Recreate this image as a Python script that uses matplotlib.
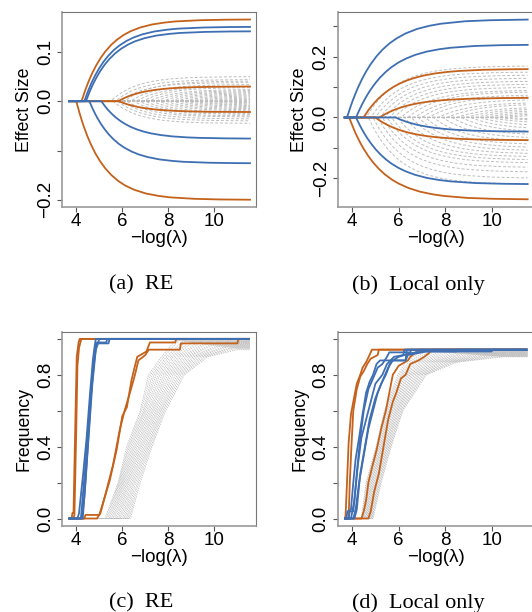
import numpy as np
import matplotlib
matplotlib.use("Agg")
import matplotlib.pyplot as plt

ORANGE = "#c4621c"
BLUE = "#3f6fb3"
GREY = "#bdbdbd"

X_START = 3.68
X_END = 11.55

# shape of a coefficient path: distance past the entry point -> share of the final value
PROFILE_D = [0, 0.1, 0.2, 0.3, 0.45, 0.6, 0.8, 1.0, 1.25, 1.5, 1.8, 2.1, 2.5, 3.0, 3.5,
             4.0, 5.0, 6.0, 8.0]
PROFILE_A = [0, 0.087, 0.166, 0.239, 0.336, 0.42, 0.517, 0.597, 0.679, 0.744, 0.805,
             0.852, 0.897, 0.935, 0.958, 0.974, 0.989, 0.996, 1.0]
PROFILE_B = [0, 0.074, 0.143, 0.206, 0.293, 0.37, 0.46, 0.537, 0.618, 0.685, 0.75,
             0.801, 0.854, 0.901, 0.932, 0.954, 0.979, 0.99, 0.998]

# (a) RE - effect size paths
A_ORANGE_ENTRY = [4.23, 5.82, 5.85, 4.0]
A_ORANGE_FINAL = [0.166, 0.030, -0.022, -0.200]
A_BLUE_ENTRY = [4.35, 4.42, 5.09, 4.57]
A_BLUE_FINAL = [0.151, 0.142, -0.076, -0.126]
A_GREY_ENTRY = [5.5, 5.6, 5.7, 5.8, 5.9, 6.0, 6.1, 6.2, 6.35, 6.5, 6.6, 6.75, 6.9,
                7.0, 7.15, 7.3, 7.45, 7.6, 7.75, 7.9, 8.05, 8.2, 8.35, 8.5, 8.65,
                8.8, 8.95, 9.1, 9.25, 9.4, 9.6, 9.8, 10.0, 10.2, 10.4, 10.6, 10.8, 11.0]
A_GREY_FINAL = [0.050, -0.045, 0.044, -0.040, 0.038, -0.036, 0.041, -0.032, 0.034,
                -0.030, 0.030, -0.027, 0.028, -0.025, 0.024, -0.023, 0.022, -0.020,
                0.020, -0.018, 0.018, -0.016, 0.016, -0.014, 0.014, -0.012, 0.012,
                -0.010, 0.010, -0.009, 0.008, -0.007, 0.006, -0.005, 0.005, -0.004,
                0.003, -0.003]

# (b) Local only - effect size paths
B_ORANGE_ENTRY = [4.49, 5.18, 5.0, 3.87]
B_ORANGE_FINAL = [0.160, 0.065, -0.075, -0.270]
B_BLUE_ENTRY = [3.78, 4.17, 5.87, 4.17]
B_BLUE_FINAL = [0.323, 0.240, -0.047, -0.220]
B_GREY_ENTRY = [4.6, 4.7, 4.8, 4.9, 5.0, 5.1, 5.2, 5.3, 5.4, 5.5, 5.6, 5.7, 5.8, 5.95,
                6.1, 6.25, 6.4, 6.55, 6.7, 6.85, 7.0, 7.15, 7.3, 7.5, 7.7, 7.9, 8.1,
                8.3, 8.5, 8.7, 8.9, 9.1, 9.3, 9.5, 9.7, 9.9, 10.1, 10.3, 10.5, 10.7]
B_GREY_FINAL = [0.17, -0.22, 0.15, -0.20, 0.14, -0.18, 0.13, -0.165, 0.12, -0.15,
                0.11, -0.14, 0.10, -0.13, 0.09, -0.12, 0.085, -0.11, 0.075, -0.10,
                0.07, -0.09, 0.06, -0.08, 0.05, -0.07, 0.045, -0.06, 0.035, -0.05,
                0.03, -0.04, 0.025, -0.03, 0.02, -0.02, 0.015, -0.012, 0.01, -0.008]

# (c) RE - selection frequency
C_ORANGE_X = [
    [3.7, 3.8, 3.83, 3.88, 3.97, 4.02, 4.1, 4.15, 11.5],
    [3.7, 3.87, 3.92, 4.0, 4.05, 4.12, 4.22, 11.5],
    [3.7, 4.35, 4.4, 5.0, 5.1, 5.45, 5.75, 6.0, 6.2, 6.4, 6.55, 6.65, 7.05, 7.2, 8.3, 8.35, 11.5],
    [3.7, 4.9, 5.05, 5.3, 5.6, 5.9, 6.1, 6.4, 6.55, 6.7, 7.0, 7.15, 8.5, 8.55, 11.0, 11.05, 11.5],
]
C_ORANGE_Y = [
    [0, 0, 0.03, 0.03, 0.6, 0.9, 0.98, 1.0, 1.0],
    [0, 0, 0.02, 0.5, 0.85, 0.95, 1.0, 1.0],
    [0, 0, 0.02, 0.02, 0.06, 0.21, 0.38, 0.57, 0.62, 0.77, 0.85, 0.9, 0.93, 0.98, 0.98, 1.0, 1.0],
    [0, 0, 0.03, 0.15, 0.3, 0.5, 0.6, 0.73, 0.8, 0.88, 0.91, 0.94, 0.94, 0.975, 0.975, 1.0, 1.0],
]
C_BLUE_X = [
    [3.7, 4.05, 4.12, 4.3, 4.45, 4.6, 4.72, 4.8, 4.85, 11.5],
    [3.7, 4.2, 4.3, 4.45, 4.6, 4.75, 4.82, 4.95, 5.0, 11.5],
    [3.7, 4.25, 4.35, 4.5, 4.65, 4.8, 4.9, 5.3, 5.35, 11.5],
    [3.7, 4.28, 4.4, 4.55, 4.7, 4.85, 4.95, 5.4, 5.45, 11.5],
]
C_BLUE_Y = [
    [0, 0, 0.03, 0.25, 0.45, 0.7, 0.88, 0.96, 1.0, 1.0],
    [0, 0, 0.15, 0.38, 0.65, 0.88, 0.96, 0.98, 1.0, 1.0],
    [0, 0, 0.12, 0.4, 0.7, 0.9, 0.98, 0.98, 1.0, 1.0],
    [0, 0, 0.2, 0.48, 0.75, 0.94, 0.975, 0.975, 1.0, 1.0],
]
C_GREY_LEVELS = [0, 0.2, 0.4, 0.6, 0.8, 0.9]
C_GREY_CROSS = [
    [5.25, 5.82, 6.19, 6.78, 7.14, 7.70, 8.30],
    [5.30, 5.85, 6.25, 6.83, 7.22, 7.80, 8.45],
    [5.36, 5.88, 6.30, 6.90, 7.30, 7.92, 8.60],
    [5.42, 5.92, 6.36, 6.95, 7.38, 8.02, 8.75],
    [5.48, 5.96, 6.42, 7.00, 7.46, 8.12, 8.90],
    [5.54, 6.00, 6.48, 7.06, 7.55, 8.22, 9.05],
    [5.60, 6.04, 6.54, 7.12, 7.63, 8.33, 9.20],
    [5.66, 6.08, 6.60, 7.18, 7.72, 8.44, 9.35],
    [5.72, 6.13, 6.66, 7.24, 7.80, 8.54, 9.50],
    [5.78, 6.18, 6.72, 7.30, 7.88, 8.65, 9.65],
    [5.84, 6.23, 6.78, 7.36, 7.96, 8.76, 9.80],
    [5.90, 6.28, 6.84, 7.42, 8.05, 8.86, 9.95],
    [5.96, 6.34, 6.90, 7.48, 8.13, 8.97, 10.10],
    [6.02, 6.40, 6.96, 7.54, 8.21, 9.08, 10.25],
    [6.08, 6.46, 7.02, 7.60, 8.30, 9.18, 10.40],
    [6.13, 6.52, 7.08, 7.66, 8.38, 9.28, 10.55],
    [6.19, 6.58, 7.13, 7.71, 8.46, 9.39, 10.70],
    [6.24, 6.65, 7.18, 7.77, 8.54, 9.49, 10.80],
    [6.30, 6.71, 7.24, 7.82, 8.62, 9.60, 10.90],
    [6.35, 6.78, 7.29, 7.88, 8.70, 9.70, 11.00],
]
C_GREY_TOP = [0.99, 0.99, 0.985, 0.985, 0.98, 0.98, 0.975, 0.975, 0.97, 0.97,
              0.965, 0.965, 0.96, 0.96, 0.955, 0.955, 0.95, 0.95, 0.945, 0.94]

# (d) Local only - selection frequency
D_ORANGE_X = [
    [3.7, 3.72, 3.78, 3.85, 3.95, 4.05, 4.2, 4.35, 4.45, 4.6, 4.75, 4.85, 11.5],
    [3.7, 3.85, 3.9, 3.97, 4.05, 4.2, 4.35, 4.5, 4.65, 4.8, 5.1, 5.15, 11.5],
    [3.7, 4.4, 4.5, 4.6, 4.7, 4.85, 5.05, 5.25, 5.45, 5.6, 5.75, 5.9, 6.0, 6.4, 6.5, 6.7, 6.85, 11.5],
    [3.7, 4.7, 4.8, 4.95, 5.15, 5.35, 5.55, 5.75, 5.9, 6.1, 6.3, 6.5, 6.85, 7.1, 7.3, 7.45, 11.5],
]
D_ORANGE_Y = [
    [0, 0.02, 0.2, 0.42, 0.58, 0.65, 0.75, 0.8, 0.84, 0.87, 0.91, 0.94, 0.94],
    [0, 0, 0.2, 0.4, 0.6, 0.72, 0.79, 0.82, 0.86, 0.89, 0.91, 0.94, 0.94],
    [0, 0, 0.04, 0.1, 0.2, 0.28, 0.38, 0.5, 0.6, 0.7, 0.8, 0.83, 0.85, 0.88, 0.9, 0.92, 0.94, 0.94],
    [0, 0, 0.04, 0.15, 0.25, 0.4, 0.55, 0.65, 0.7, 0.78, 0.8, 0.86, 0.88, 0.9, 0.92, 0.94, 0.94],
]
D_BLUE_X = [
    [3.7, 3.75, 3.8, 3.95, 4.05, 4.15, 4.3, 4.45, 4.6, 4.75, 4.9, 5.05, 5.2, 6.3, 6.35, 11.5],
    [3.7, 3.85, 3.9, 4.05, 4.2, 4.35, 4.5, 4.7, 4.9, 5.1, 5.3, 5.5, 5.6, 6.5, 6.55, 11.5],
    [3.7, 3.95, 4.1, 4.25, 4.4, 4.6, 4.8, 5.0, 5.3, 5.5, 5.8, 6.2, 6.25, 11.5],
    [3.7, 4.05, 4.15, 4.3, 4.5, 4.7, 4.9, 5.1, 5.35, 5.55, 5.7, 6.3, 6.4, 7.2, 8.5, 8.55, 11.5],
    [3.7, 4.1, 4.2, 4.35, 4.55, 4.75, 5.0, 5.25, 5.45, 5.6, 5.75, 6.0, 6.5, 7.0, 10.0, 10.05, 11.5],
]
D_BLUE_Y = [
    [0, 0, 0.04, 0.05, 0.2, 0.33, 0.45, 0.58, 0.7, 0.76, 0.8, 0.86, 0.88, 0.88, 0.94, 0.94],
    [0, 0, 0.04, 0.04, 0.25, 0.45, 0.6, 0.72, 0.78, 0.84, 0.86, 0.9, 0.925, 0.925, 0.94, 0.94],
    [0, 0, 0.1, 0.3, 0.45, 0.55, 0.65, 0.75, 0.8, 0.86, 0.9, 0.91, 0.94, 0.94],
    [0, 0, 0.05, 0.2, 0.35, 0.5, 0.6, 0.7, 0.78, 0.84, 0.88, 0.88, 0.91, 0.93, 0.93, 0.94, 0.94],
    [0, 0, 0.05, 0.25, 0.4, 0.55, 0.67, 0.75, 0.8, 0.85, 0.88, 0.9, 0.92, 0.93, 0.93, 0.94, 0.94],
]
D_GREY_LEVELS = [0, 0.2, 0.4, 0.6, 0.8, 0.87]
D_GREY_CROSS = [
    [4.40, 4.60, 5.03, 5.39, 5.97, 6.30, 7.00],
    [4.43, 4.63, 5.06, 5.43, 6.03, 6.42, 7.18],
    [4.45, 4.67, 5.10, 5.47, 6.10, 6.53, 7.37],
    [4.48, 4.70, 5.13, 5.51, 6.16, 6.65, 7.55],
    [4.51, 4.74, 5.17, 5.56, 6.23, 6.76, 7.74],
    [4.53, 4.77, 5.20, 5.60, 6.29, 6.88, 7.92],
    [4.56, 4.81, 5.24, 5.64, 6.36, 6.99, 8.10],
    [4.59, 4.84, 5.27, 5.68, 6.42, 7.11, 8.29],
    [4.61, 4.87, 5.30, 5.72, 6.48, 7.23, 8.47],
    [4.64, 4.91, 5.34, 5.76, 6.55, 7.34, 8.66],
    [4.66, 4.94, 5.37, 5.81, 6.61, 7.46, 8.84],
    [4.69, 4.98, 5.41, 5.85, 6.68, 7.57, 9.03],
    [4.72, 5.01, 5.44, 5.89, 6.74, 7.69, 9.21],
    [4.74, 5.05, 5.48, 5.93, 6.81, 7.80, 9.39],
    [4.77, 5.08, 5.51, 5.97, 6.87, 7.92, 9.58],
    [4.79, 5.11, 5.54, 6.01, 6.93, 8.04, 9.76],
    [4.82, 5.15, 5.58, 6.06, 7.00, 8.15, 9.95],
    [4.85, 5.18, 5.61, 6.10, 7.06, 8.27, 10.13],
    [4.87, 5.22, 5.65, 6.14, 7.13, 8.38, 10.32],
    [4.90, 5.25, 5.68, 6.18, 7.19, 8.50, 10.50],
]
D_GREY_TOP = [0.935, 0.933, 0.931, 0.929, 0.927, 0.926, 0.924, 0.922, 0.920, 0.918,
              0.917, 0.915, 0.913, 0.911, 0.909, 0.908, 0.906, 0.904, 0.902, 0.900]

X_TICKS = [4, 6, 8, 10]
A_YTICKS = [-0.2, -0.1, 0.0, 0.1]
A_YLABELS = ["\u22120.2", "", "0.0", "0.1"]
B_YTICKS = [-0.2, -0.1, 0.0, 0.1, 0.2, 0.3]
B_YLABELS = ["\u22120.2", "", "0.0", "", "0.2", ""]
F_YTICKS = [0.0, 0.2, 0.4, 0.6, 0.8, 1.0]
F_YLABELS = ["0.0", "", "0.4", "", "0.8", ""]

SANS = ["Liberation Sans", "DejaVu Sans"]
SERIF = ["Liberation Serif", "DejaVu Serif"]
FS = 13.5
FS_YLAB = 12.8

plt.rcParams['font.family'] = SANS


def draw_effect_panel(ax, profile, orange_entry, orange_final, blue_entry, blue_final,
                      grey_entry, grey_final):
    x = np.linspace(X_START, X_END, 500)
    for e, f in zip(grey_entry, grey_final):
        y = f * np.interp(x - e, PROFILE_D, profile, left=0.0)
        ax.plot(x, y, color=GREY, lw=0.7, dashes=(3, 2))
    for e, f in zip(orange_entry, orange_final):
        y = f * np.interp(x - e, PROFILE_D, profile, left=0.0)
        ax.plot(x, y, color=ORANGE, lw=1.3)
    for e, f in zip(blue_entry, blue_final):
        y = f * np.interp(x - e, PROFILE_D, profile, left=0.0)
        ax.plot(x, y, color=BLUE, lw=1.3)


def draw_freq_panel(ax, levels, cross, top, orange_x, orange_y, blue_x, blue_y):
    for row, t in zip(cross, top):
        xs = [X_START] + row + [X_END]
        ys = [0] + levels + [t, t]
        ax.plot(xs, ys, color=GREY, lw=0.6, dashes=(1.5, 1.2))
    for xs, ys in zip(orange_x, orange_y):
        ax.plot(xs, ys, color=ORANGE, lw=1.3)
    for xs, ys in zip(blue_x, blue_y):
        ax.plot(xs, ys, color=BLUE, lw=1.3)


def style_axes(ax, ylim, yticks, ylabels, ylabel):
    ax.set_xlim(3.38, 11.81)
    ax.set_ylim(*ylim)
    ax.set_xticks(X_TICKS)
    ax.set_xticklabels([str(t) for t in X_TICKS], fontsize=FS)
    ax.set_yticks(yticks)
    ax.set_yticklabels(ylabels, fontsize=FS, rotation=90, va='center')
    ax.tick_params(axis='x', direction='out', length=3.6, width=0.8, color='#555555', pad=0.7)
    ax.tick_params(axis='y', direction='out', length=3.6, width=0.8, color='#555555', pad=2.2)
    for side in ['top', 'right']:
        ax.spines[side].set_color('#777777')
        ax.spines[side].set_linewidth(0.8)
    for side in ['left', 'bottom']:
        ax.spines[side].set_color('#999999')
        ax.spines[side].set_linewidth(1.2)
    ax.set_xlabel("\u2212log(\u03bb)", fontsize=FS, labelpad=0)
    ax.set_ylabel(ylabel, fontsize=FS_YLAB)
    ax.yaxis.set_label_coords(-0.152, 0.5)


fig = plt.figure(figsize=(5.32, 6.12), dpi=100)
W, H = 532.0, 612.0


def add_axes(left, top, width, height):
    return fig.add_axes([left / W, 1 - (top + height) / H, width / W, height / H])


ax_a = add_axes(62, 12, 194, 195)
ax_b = add_axes(337.7, 12, 196, 195)
ax_c = add_axes(62, 331.7, 194, 194)
ax_d = add_axes(337.7, 331.7, 196, 194)

draw_effect_panel(ax_a, PROFILE_A, A_ORANGE_ENTRY, A_ORANGE_FINAL, A_BLUE_ENTRY,
                  A_BLUE_FINAL, A_GREY_ENTRY, A_GREY_FINAL)
style_axes(ax_a, (-0.2146, 0.181), A_YTICKS, A_YLABELS, "Effect Size")

draw_effect_panel(ax_b, PROFILE_B, B_ORANGE_ENTRY, B_ORANGE_FINAL, B_BLUE_ENTRY,
                  B_BLUE_FINAL, B_GREY_ENTRY, B_GREY_FINAL)
style_axes(ax_b, (-0.2945, 0.347), B_YTICKS, B_YLABELS, "Effect Size")
ax_b.yaxis.set_label_coords(-0.15, 0.5)

draw_freq_panel(ax_c, C_GREY_LEVELS, C_GREY_CROSS, C_GREY_TOP, C_ORANGE_X, C_ORANGE_Y,
                C_BLUE_X, C_BLUE_Y)
style_axes(ax_c, (-0.04, 1.04), F_YTICKS, F_YLABELS, "Frequency")

draw_freq_panel(ax_d, D_GREY_LEVELS, D_GREY_CROSS, D_GREY_TOP, D_ORANGE_X, D_ORANGE_Y,
                D_BLUE_X, D_BLUE_Y)
style_axes(ax_d, (-0.04, 1.04), F_YTICKS, F_YLABELS, "Frequency")
ax_d.yaxis.set_label_coords(-0.15, 0.5)

# sub-captions
captions = [("(a)\u2002RE", 141, 285), ("(b)\u2002Local only", 418, 285),
            ("(c)\u2002RE", 141, 603), ("(d)\u2002Local only", 418, 603)]
for txt, cx, cy in captions:
    fig.text(cx / W, 1 - cy / H, txt, ha='center', va='center', fontsize=16, family=SERIF)

fig.savefig("out.png", dpi=100)
